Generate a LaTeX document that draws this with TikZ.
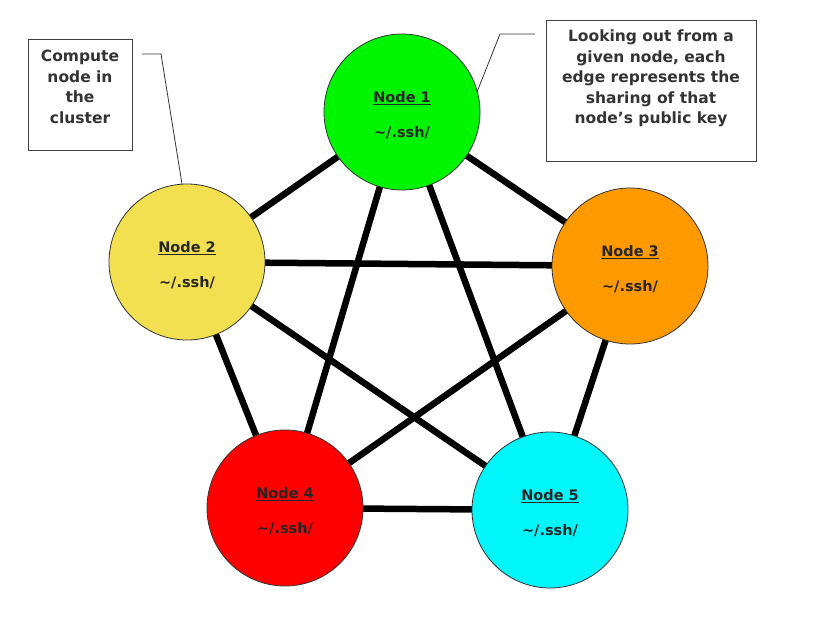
\documentclass[tikz,border=0pt]{standalone}
\usepackage{fontspec}
\setmainfont{DejaVu Sans}
\begin{document}
\begin{tikzpicture}[x=1pt,y=-1pt,
  pc/.style={circle,draw=black!80,line width=0.8pt,minimum size=156pt,inner sep=0pt,
    label={[align=center,font=\bfseries\fontsize{14.5}{17}\selectfont,text=black!85,yshift=-3pt]center:\underline{#1}\\[18pt]\textasciitilde/.ssh/}},
  edge/.style={line width=6.5pt,black},
  boxtext/.style={font=\bfseries\fontsize{15.5}{20.5}\selectfont,text=black!80,align=center,anchor=north,inner sep=0pt},
  boxframe/.style={draw=black!75,line width=1pt},
  lead/.style={draw=black!80,line width=0.8pt}
]
\definecolor{cgreen}{RGB}{0,245,0}
\definecolor{cyellow}{RGB}{242,224,80}
\definecolor{corange}{RGB}{255,153,0}
\definecolor{cred}{RGB}{255,0,0}
\definecolor{ccyan}{RGB}{0,246,250}
\useasboundingbox[fill=white] (0,0) rectangle (822,618);
\coordinate (c1) at (402,112);
\coordinate (c2) at (187,262);
\coordinate (c3) at (630,266);
\coordinate (c4) at (285,508);
\coordinate (c5) at (550,510);
\foreach \a/\b in {c1/c2,c1/c3,c1/c4,c1/c5,c2/c3,c2/c4,c2/c5,c3/c4,c3/c5,c4/c5}
  \draw[edge] (\a) -- (\b);
\node[pc={Node 1},fill=cgreen] (n1) at (c1) {};
\node[pc={Node 2},fill=cyellow] (n2) at (c2) {};
\node[pc={Node 3},fill=corange] (n3) at (c3) {};
\node[pc={Node 4},fill=cred] (n4) at (c4) {};
\node[pc={Node 5},fill=ccyan] (n5) at (c5) {};
% callout boxes
\draw[boxframe] (28,40) rectangle (132,150);
\node[boxtext] (lb) at (80,50) {Compute\\node in\\the\\cluster};
\draw[boxframe] (546,21) rectangle (756,161);
\node[boxtext] (rb) at (651,30) {Looking out from a\\given node, each\\edge represents the\\sharing of that\\node’s public key};
\coordinate (l1) at (142,54);
\coordinate (l2) at (161,54);
\coordinate (l3) at (182,184);
\draw[lead] (l1) -- (l2) -- (l3);
\coordinate (r1) at (535,34);
\coordinate (r2) at (500,34);
\coordinate (r3) at (477,92);
\draw[lead] (r1) -- (r2) -- (r3);
\end{tikzpicture}
\end{document}
